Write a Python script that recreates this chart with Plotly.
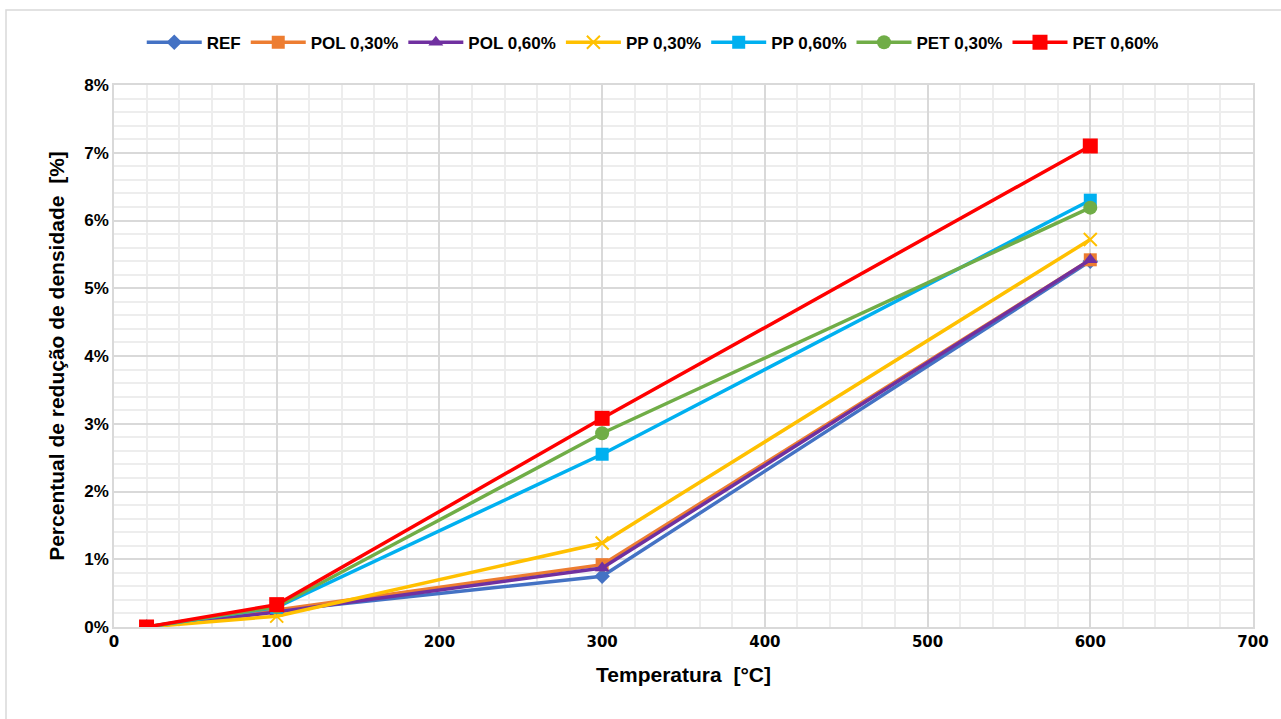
import plotly.graph_objects as go

temps = [20, 100, 300, 600]
series_names = ["REF", "POL 0,30%", "POL 0,60%", "PP 0,30%", "PP 0,60%", "PET 0,30%", "PET 0,60%"]
ref = [0.0, 0.0024, 0.0075, 0.0540]
pol030 = [0.0, 0.0025, 0.0092, 0.0542]
pol060 = [0.0, 0.0022, 0.0087, 0.0542]
pp030 = [0.0, 0.0016, 0.0124, 0.0572]
pp060 = [0.0, 0.0029, 0.0255, 0.0630]
pet030 = [0.0, 0.0030, 0.0286, 0.0619]
pet060 = [0.0, 0.0033, 0.0308, 0.0710]
values = [ref, pol030, pol060, pp030, pp060, pet030, pet060]
colors = ["#4472C4", "#ED7D31", "#7030A0", "#FFC000", "#00B0F0", "#70AD47", "#FF0000"]
symbols = ["diamond", "square", "triangle-up", "x-thin", "square", "circle", "square"]
sizes = [12, 13, 13, 13, 13, 14, 15]

FONT = "Liberation Sans, Arial, sans-serif"

fig = go.Figure()
for name, vals, c, s, sz in zip(series_names, values, colors, symbols, sizes):
    fig.add_trace(go.Scatter(
        x=temps, y=vals, name=name, mode="lines+markers",
        line=dict(color=c, width=3.5),
        marker=dict(symbol=s, size=sz, color=c, line=dict(color=c, width=2 if s == "x-thin" else 0)),
    ))

fig.update_layout(
    width=1281, height=719,
    margin=dict(l=114, r=28, t=85, b=92),
    paper_bgcolor="white", plot_bgcolor="white",
    font=dict(family=FONT, size=16, color="#000000"),
    legend=dict(orientation="h", x=0.473, xanchor="center", y=1.078, yanchor="middle",
                font=dict(family=FONT, size=17, color="#000000", weight="bold"), itemwidth=55),
    showlegend=True,
)
fig.update_xaxes(
    range=[0, 700], dtick=100, tick0=0,
    showgrid=True, gridcolor="#D9D9D9", gridwidth=1.5,
    minor=dict(dtick=20, showgrid=True, gridcolor="#EDEDED", gridwidth=1.5),
    showline=True, linecolor="#D9D9D9", linewidth=1.5, mirror=True,
    zeroline=False, ticks="",
    tickfont=dict(family="DejaVu Sans, sans-serif", size=15, color="#000000", weight="bold"),
    title=dict(text="<b>Temperatura  [°C]</b>", font=dict(family=FONT, size=21), standoff=18),
)
fig.update_yaxes(
    range=[0, 0.08], dtick=0.01, tickformat=".0%",
    showgrid=True, gridcolor="#D9D9D9", gridwidth=1.5,
    minor=dict(dtick=0.002, showgrid=True, gridcolor="#EDEDED", gridwidth=1.5),
    showline=True, linecolor="#D9D9D9", linewidth=1.5, mirror=True,
    zeroline=False, ticks="",
    tickfont=dict(family=FONT, size=17, color="#000000", weight="bold"),
    title=dict(text="<b>Percentual de redução de densidade  [%]</b>", font=dict(family=FONT, size=21), standoff=14),
)
fig.add_shape(type="rect", xref="paper", yref="paper",
              x0=(6 - 114) / 1139, x1=(1300 - 114) / 1139,
              y0=1 - (740 - 85) / 542, y1=1 + (85 - 10) / 542,
              line=dict(color="#D9D9D9", width=1.5), fillcolor="rgba(0,0,0,0)", layer="below")

fig.write_html("out.html")
